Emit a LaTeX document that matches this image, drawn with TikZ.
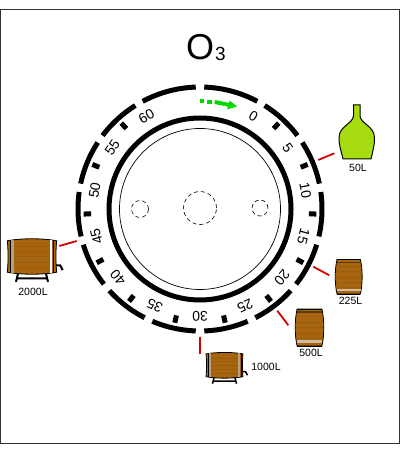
\documentclass[tikz,border=0pt]{standalone}
\usepackage{fontspec}
\setmainfont{Liberation Sans}
\definecolor{wood}{HTML}{A8650F}
\definecolor{woodline}{HTML}{9A5C0E}
\definecolor{band}{HTML}{B8A078}
\definecolor{glass}{HTML}{A6DC10}
\definecolor{framegray}{HTML}{333333}
\tikzset{
  framelineb/.style={draw=framegray,line width=1pt},
  ringseg/.style={line width=5pt,black},
  ticktick/.style={line width=5pt,black},
  link/.style={draw=red!85!black,line width=1.8pt},
  dial/.style={font=\fontsize{14}{14}\selectfont,inner sep=0pt},
  vesselcap/.style={font=\fontsize{10.5}{10.5}\selectfont,inner sep=0pt},
  hole/.style={draw,dash pattern=on 4pt off 3pt,line width=0.6pt},
}
% upright barrel: centre, half-width, half-height
\newcommand{\uprightbarrel}[4]{%
  \begin{scope}[shift={(#1,#2)},x=#3pt,y=-#4pt]
    \draw[fill=wood,line width=0.8pt] (-0.9,-1) .. controls (-1.08,-0.4) and (-1.08,0.4) .. (-0.9,1) -- (0.9,1) .. controls (1.08,0.4) and (1.08,-0.4) .. (0.9,-1) -- cycle;
    \foreach \yy in {-0.6,-0.3,0,0.3,0.6}{\draw[woodline,line width=0.3pt] (-0.98,\yy) -- (0.98,\yy);}
    \draw[line width=1.6pt,black!45!wood] (-0.92,-0.83) -- (0.92,-0.83);
    \fill[band!70!white] (-0.93,0.7) rectangle (0.93,0.84);
    \draw[black,line width=0.8pt] (-0.9,1) -- (0.9,1) (-0.9,-1) -- (0.9,-1);
  \end{scope}}
% lying barrel with stand and tap
\newcommand{\lyingbarrel}[6]{%
  \begin{scope}[shift={(#1,#2)},x=#3pt,y=-#4pt]
    \draw[line width=#5pt,black] (-0.55,0.9) -- (-0.65,1.45) (0.55,0.9) -- (0.65,1.45) (-0.6,1.25) -- (0.6,1.25);
    \draw[line width=#5pt,black] (0.98,0.5) -- (1.14,0.5) -- (1.24,0.78);
    \draw[fill=wood,line width=0.8pt] (-1,-0.9) .. controls (-0.4,-1.05) and (0.4,-1.05) .. (1,-0.9) .. controls (0.96,-0.4) and (0.96,0.4) .. (1,0.9) .. controls (0.4,1.05) and (-0.4,1.05) .. (-1,0.9) .. controls (-0.96,0.4) and (-0.96,-0.4) .. (-1,-0.9) -- cycle;
    \foreach \yy in {-0.6,-0.3,0,0.3,0.6}{\draw[woodline,line width=0.3pt] (-0.9,\yy) -- (0.9,\yy);}
    \fill[band] (-0.84,-0.95) rectangle (-0.74,0.95);
    \fill[#6] (0.72,-0.95) rectangle (0.82,0.95);
    \draw[line width=0.5pt] (-0.9,-0.93) -- (-0.9,0.93) (0.88,-0.93) -- (0.88,0.93);
  \end{scope}}
\begin{document}
\begin{tikzpicture}[x=1pt,y=-1pt]
\useasboundingbox (0,0) rectangle (400,454);
\fill[white] (0,0) rectangle (400,454);
\draw[framelineb] (0.7,9.5) rectangle (399.3,443);
% title
\node[inner sep=0pt,anchor=base] (title) at (200,60) {\fontsize{36}{36}\selectfont O};
\node[inner sep=0pt,anchor=base] (sub) at (220.5,60.5) {\fontsize{19}{19}\selectfont 3};
% rings
\coordinate (c) at (200,209);
\draw[line width=5pt] (c) circle[radius=91pt];
\draw[line width=0.7pt] (c) circle[radius=80.5pt];
\draw[hole] (200,208) circle[radius=16.5pt];
\draw[hole] (140,209) circle[radius=8.5pt];
\draw[hole] (260,208) circle[radius=8pt];
% outer ring: clockwise degrees from the top
\foreach \a/\b in {2/28,32/53,57/78,82/103,107/128,132/153,157/178,182/203,207/228,232/253,257/278,282/303,307/328,332/358}{
  \draw[ringseg] plot[domain=\a:\b,samples=16,smooth] ({200+122*sin(\x)},{209-122*cos(\x)});
}
% ticks
\foreach \a in {42.5,67.5,92.5,117.5,142.5,167.5,192.5,217.5,242.5,267.5,292.5,317.5}{
  \draw[ticktick] ({200+109*sin(\a)},{209-109*cos(\a)}) -- ({200+116.5*sin(\a)},{209-116.5*cos(\a)});
}
% dial numbers
\foreach \lab/\a in {0/30,5/55,10/80,15/105,20/130,25/155,30/180,35/205,40/230,45/255,50/280,55/305,60/330}{
  \node[dial,rotate={-\a}] (d\lab) at ({200+107*sin(\a)},{209-107*cos(\a)}) {\lab};
}
% green direction arrow
\fill[green!85!black] (200.3,99.5) rectangle (204,103.3);
\fill[green!85!black] (207.2,99.7) rectangle (211.5,103.6);
\fill[green!85!black] (215,100) -- (229,103) -- (229.6,100.6) -- (237,106.5) -- (227.2,109.4) -- (228,106.6) -- (214.4,104) -- cycle;
% vessels
\draw[fill=glass,line width=1pt] (353.5,105) -- (360,105) -- (360,116) .. controls (361,124) and (374.5,126) .. (374.5,138) .. controls (374.5,146) and (372.5,152) .. (371,159) -- (343,159) .. controls (341.5,152) and (339,146) .. (339,138) .. controls (339,126) and (352.5,124) .. (353.5,116) -- cycle;
\uprightbarrel{348.7}{276.7}{13}{17.3}
\uprightbarrel{309.5}{327.5}{13.8}{18.5}
\lyingbarrel{224.5}{365.3}{18.5}{12.7}{1.5}{band}
\lyingbarrel{32}{256.5}{24.7}{17.5}{2}{white}
% labels
\node[vesselcap] (l50) at (358,168) {50L};
\node[vesselcap] (l225) at (350.5,301) {225L};
\node[vesselcap] (l500) at (311,352.7) {500L};
\node[vesselcap] (l1000) at (266,367.3) {1000L};
\node[vesselcap] (l2000) at (33,292) {2000L};
% connectors
\coordinate (a1) at (318.3,160); \coordinate (b1) at (334.3,153.3);
\coordinate (a2) at (313.3,266.7); \coordinate (b2) at (329.3,275.3);
\coordinate (a3) at (277.3,310.7); \coordinate (b3) at (288.3,325.3);
\coordinate (a4) at (200,336.7); \coordinate (b4) at (200,354);
\coordinate (a5) at (76.7,241); \coordinate (b5) at (59.3,246);
\foreach \i in {1,...,5}{\draw[link] (a\i) -- (b\i);}
\end{tikzpicture}
\end{document}
